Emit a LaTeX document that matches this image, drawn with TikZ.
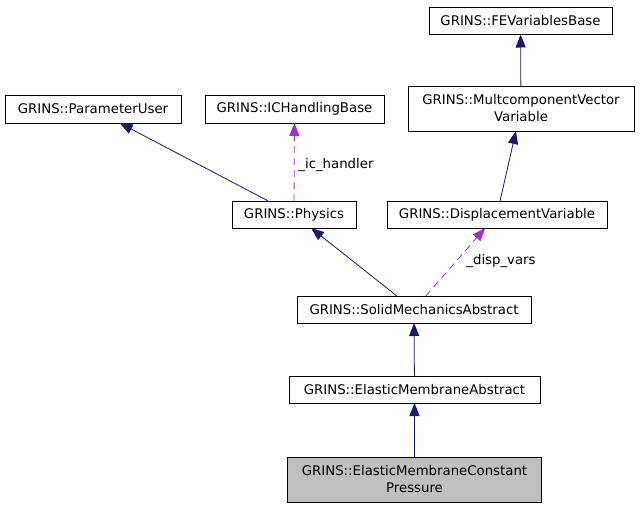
\documentclass[tikz,border=0pt]{standalone}
\usepackage{fontspec}
\setmainfont{DejaVu Sans}
\usetikzlibrary{arrows.meta}
\definecolor{inhColor}{HTML}{191970}
\definecolor{usesColor}{HTML}{9A32CD}
\definecolor{curColor}{HTML}{BFBFBF}

\begin{document}
\begin{tikzpicture}[x=1pt,y=-1pt,line width=0.8pt,
	cls/.style={draw, fill=white, inner sep=0, outer sep=0, minimum height=27, align=center, font=\fontsize{13.3}{17}\selectfont},
	inh/.style={draw=inhColor, -{Triangle[length=13pt,width=10pt,fill=inhColor]}},
	uses/.style={draw=usesColor, dash pattern=on 7pt off 5pt, -{Triangle[length=13pt,width=10pt,fill=usesColor]}},
	lbl/.style={anchor=west, inner sep=0, font=\fontsize{13.3}{17}\selectfont}]
	\fill[white] (0,0) rectangle (640,509);
	\useasboundingbox (0,0) rectangle (640,509);
	\node[cls, minimum width=183] (fevb) at (520.5, 21) {GRINS::FEVariablesBase};
	\node[cls, minimum width=226, minimum height=45] (mcv) at (521, 108.5) {GRINS::MultcomponentVector\\Variable};
	\node[cls, minimum width=176, minimum height=28] (pu) at (93, 109) {GRINS::ParameterUser};
	\node[cls, minimum width=179, minimum height=28] (ichb) at (294.5, 109) {GRINS::ICHandlingBase};
	\node[cls, minimum width=124] (phys) at (294, 214.5) {GRINS::Physics};
	\node[cls, minimum width=220] (dv) at (497, 214.5) {GRINS::DisplacementVariable};
	\node[cls, minimum width=234] (sma) at (414, 309.5) {GRINS::SolidMechanicsAbstract};
	\node[cls, minimum width=251] (ema) at (414.5, 389.5) {GRINS::ElasticMembraneAbstract};
	\node[cls, minimum width=254, minimum height=45, fill=curColor] (emcp) at (414.5, 479.5) {GRINS::ElasticMembraneConstant\\Pressure};
	% inheritance
	\path[inh] (mcv) -- (fevb);
	\path[inh] (dv) -- (mcv);
	\path[inh] (phys) -- (pu);
	\path[inh] (sma) -- (phys);
	\path[inh] (ema) -- (sma);
	\path[inh] (emcp) -- (ema);
	% usage
	\path[uses] (phys) -- (ichb);
	\path[uses] (sma) -- (dv);
	\node[lbl] (icl) at (298, 165) {\_ic\_handler};
	\node[lbl] (dvl) at (466, 261) {\_disp\_vars};
\end{tikzpicture}
\end{document}
